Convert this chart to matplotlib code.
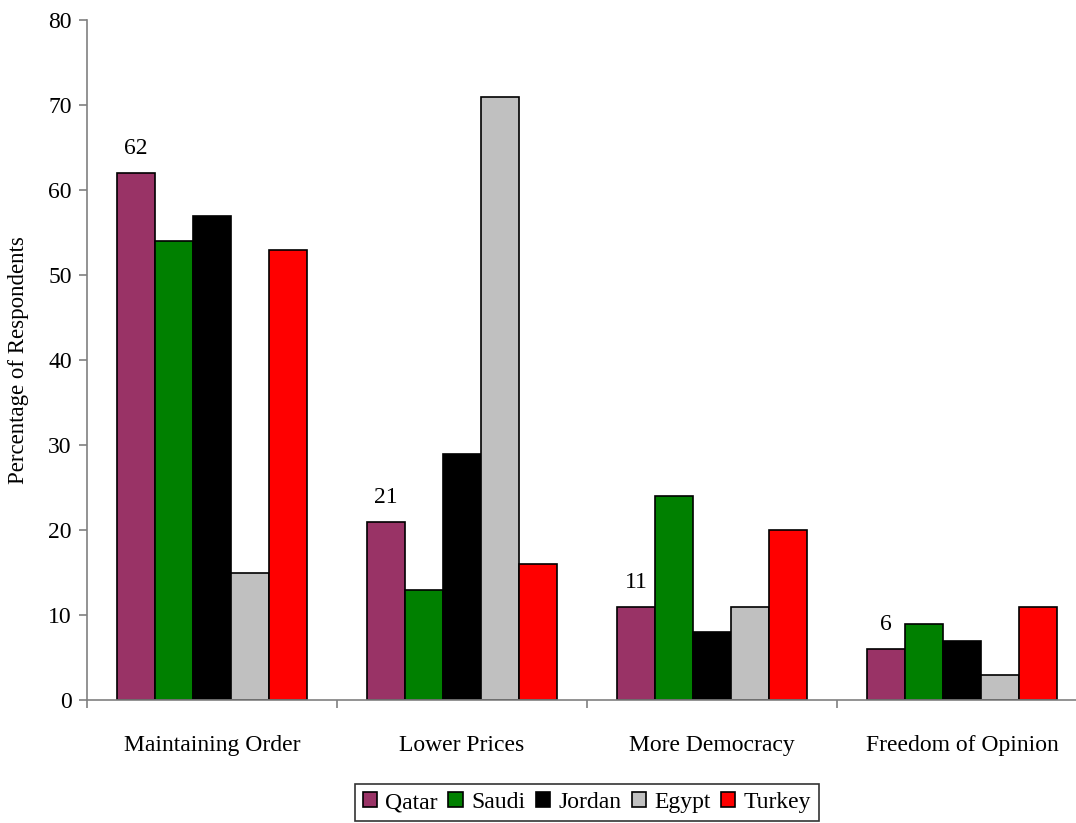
import numpy as np
import matplotlib
matplotlib.use('Agg')
from matplotlib import pyplot as plt
from matplotlib.ticker import FixedLocator

plt.rcParams['font.family'] = ['Liberation Serif', 'DejaVu Serif']

categories = ['Maintaining Order', 'Lower Prices', 'More Democracy', 'Freedom of Opinion']
countries = ['Qatar', 'Saudi', 'Jordan', 'Egypt', 'Turkey']
qatar = [62, 21, 11, 6]
saudi = [54, 13, 24, 9]
jordan = [57, 29, 8, 7]
egypt = [15, 71, 11, 3]
turkey = [53, 16, 20, 11]
colors = ['#993366', '#008000', '#000000', '#c0c0c0', '#ff0000']

series = [qatar, saudi, jordan, egypt, turkey]

fig = plt.figure(figsize=(10.76, 8.23), dpi=100)
ax = fig.add_axes([87 / 1076, 123 / 823, 1000 / 1076, 680 / 823])

x = np.arange(len(categories))
w = 0.152
for i, (vals, col, name) in enumerate(zip(series, colors, countries)):
    ax.bar(x + (i - 2) * w, vals, width=w, color=col, edgecolor='black',
           linewidth=1.2, label=name)

# labels above Qatar bars
for xi, v in zip(x, qatar):
    ax.text(xi - 2 * w, v + 1.6, str(v), ha='center', va='bottom', fontsize=17)

ax.set_xlim(-0.5, 3.5)
ax.set_ylim(0, 80)
ax.set_yticks(np.arange(0, 81, 10))
ax.tick_params(axis='y', labelsize=17, length=6, color='#808080', width=1.2, pad=5)

ax.xaxis.set_major_locator(FixedLocator([-0.5, 0.5, 1.5, 2.5, 3.5]))
ax.xaxis.set_major_formatter(plt.NullFormatter())
ax.xaxis.set_minor_locator(FixedLocator(x))
ax.set_xticklabels(categories, minor=True)
ax.tick_params(axis='x', which='major', length=6, color='#808080', width=1.2)
ax.tick_params(axis='x', which='minor', length=0, labelsize=17, pad=25)

for s in ['top', 'right']:
    ax.spines[s].set_visible(False)
for s in ['left', 'bottom']:
    ax.spines[s].set_color('#808080')
    ax.spines[s].set_linewidth(1.2)

ax.set_ylabel('Percentage of Respondents', fontsize=16.5, labelpad=14)

leg = ax.legend(loc='upper center', bbox_to_anchor=(0.5, -0.106), ncol=5,
                fontsize=17, frameon=True, fancybox=False, edgecolor='black',
                handlelength=0.6, handleheight=0.6, handletextpad=0.35,
                columnspacing=0.45, borderpad=0.35)
leg.get_frame().set_linewidth(1.2)

fig.savefig('out.png', dpi=100)
